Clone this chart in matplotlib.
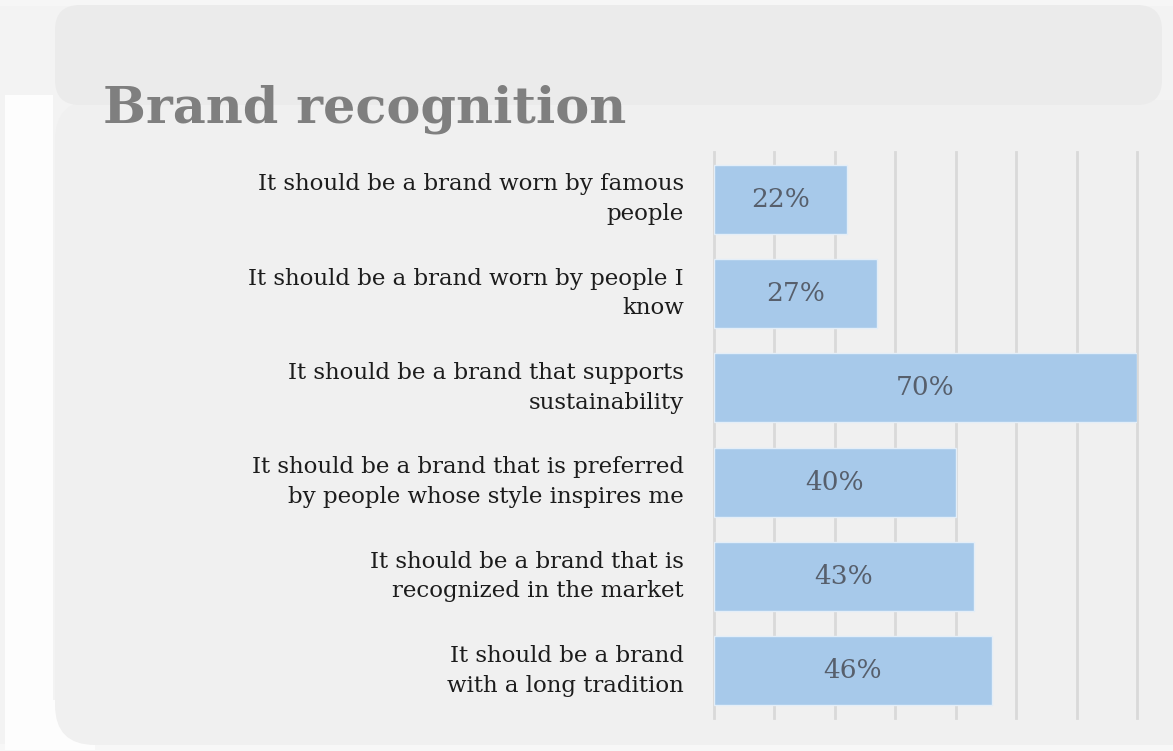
import matplotlib.pyplot as plt
from matplotlib.patches import FancyBboxPatch, Rectangle

categories = [
    "It should be a brand worn by famous\npeople",
    "It should be a brand worn by people I\nknow",
    "It should be a brand that supports\nsustainability",
    "It should be a brand that is preferred\nby people whose style inspires me",
    "It should be a brand that is\nrecognized in the market",
    "It should be a brand\nwith a long tradition",
]
values = [22, 27, 70, 40, 43, 46]
ticks = [0, 10, 20, 30, 40, 50, 60, 70]

W, H = 1173, 751
fig = plt.figure(figsize=(W / 100, H / 100), dpi=100, facecolor="#f3f3f3")

# background panels, drawn in pixel units
bg = fig.add_axes([0, 0, 1, 1])
bg.set_xlim(0, W)
bg.set_ylim(H, 0)
bg.axis("off")
bg.add_patch(Rectangle((0, 0), W, 6, color="#f6f6f6", lw=0))
bg.add_patch(Rectangle((5, 95), 48, H, color="#fdfdfd", lw=0))
bg.add_patch(Rectangle((0, 744), W, 10, color="#f7f7f7", lw=0))
bg.add_patch(Rectangle((5, 700), 90, 50, color="#fdfdfd", lw=0))
bg.add_patch(FancyBboxPatch((95, 140), 1200, 565,
                            boxstyle="round,pad=40,rounding_size=40",
                            fc="#f0f0f0", ec="none"))
bg.add_patch(FancyBboxPatch((80, 30), 1057, 50,
                            boxstyle="round,pad=25,rounding_size=25",
                            fc="#ebebeb", ec="none"))
bg.text(103, 122, "Brand recognition", fontsize=36.6, fontweight="bold",
        family="DejaVu Serif", color="#7f7f7f", va="baseline", ha="left")

ax = fig.add_axes([714 / W, 1 - 718 / H, 423 / W, 566 / H])
ax.set_facecolor("none")
y = range(len(values))
ax.barh(y, values, height=0.73, color="#a7c9ea", edgecolor="#e4eef8",
        linewidth=1, zorder=2)
for x in ticks:
    ax.axvline(x, color="#d9d9d9", lw=2, zorder=1, clip_on=False)
for i, v in enumerate(values):
    ax.text(v / 2, i, f"{v}%", ha="center", va="center", fontsize=19,
            family="DejaVu Serif", color="#575f6c", zorder=3)
    ax.text(-5.0, i, categories[i], ha="right", va="center",
            multialignment="right", fontsize=16.5, family="DejaVu Serif",
            color="#1c1c1c", linespacing=1.45)
ax.set_xlim(0, 70)
ax.set_ylim(len(values) - 0.5, -0.5)
ax.axis("off")

fig.savefig("out.png", dpi=100, facecolor=fig.get_facecolor())
